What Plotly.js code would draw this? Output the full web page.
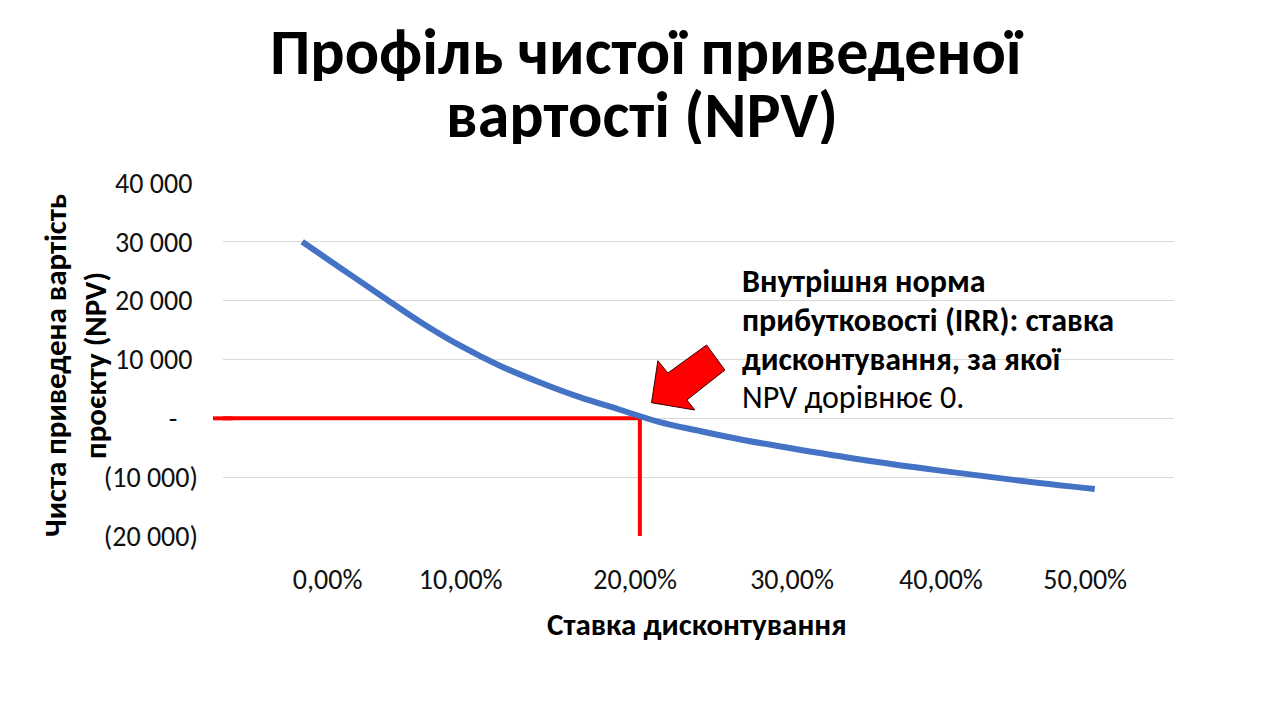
<!DOCTYPE html>
<html>
<head>
<meta charset="utf-8">
<script src="https://cdn.plot.ly/plotly-3.0.1.min.js"></script>
<style>
  html, body { margin: 0; padding: 0; background: #ffffff; }
  #chart { width: 1280px; height: 720px; }
</style>
</head>
<body>
<div id="chart"></div>
<script>
// ---- data ----
const rates = [0, 2.5, 5, 7.5, 10, 12.5, 15, 17.5, 20, 22.5, 25, 27.5, 30, 35, 40, 45, 50];   // discount rate, %
const npv = [30000, 25400, 20800, 16300, 12300, 8900, 6100, 3600, 1500, -600, -2100, -3500, -4700, -6900, -8800, -10500, -12000];
const irr = 21.3;                                                      // % where NPV = 0
const xTickRates = [1.6, 10, 21, 30.9, 40.3, 49.4];                   // where the labels sit
const xTickLabels = ['0,00%', '10,00%', '20,00%', '30,00%', '40,00%', '50,00%'];
const yTickValues = [-20000, -10000, 0, 10000, 20000, 30000, 40000];
const yTickLabels = ['(20 000)', '(10 000)', '-\u2007\u2009', '10 000\u2009', '20 000\u2009', '30 000\u2009', '40 000\u2009'];
const titleLines = ['Профіль чистої приведеної', 'вартості (NPV)'];
const yTitle = 'Чиста приведена вартість<br>проєкту (NPV)';
const xTitle = 'Ставка дисконтування';
const noteBold = ['Внутрішня норма', 'прибутковості (IRR): ставка', 'дисконтування, за якої'];
const noteRegular = 'NPV дорівнює 0.';

// ---- layout geometry ----
const W = 1280, H = 720;
const M = { l: 223, r: 106, t: 183, b: 184 };
const PW = W - M.l - M.r, PH = H - M.t - M.b;
const px = x => (x - M.l) / PW;
const py = y => (H - M.b - y) / PH;
const FONT = "Carlito, Calibri, 'Liberation Sans Narrow', 'Open Sans', sans-serif";
const INK = '#111111';
const RED = '#FF0000';

const traces = [{
  type: 'scatter', mode: 'lines', x: rates, y: npv,
  line: { color: '#4472C4', width: 6, shape: 'spline', smoothing: 1 },
  hoverinfo: 'skip', showlegend: false
}];

// note lines: vertical centres of each line in the reference
const noteY = [281, 320, 359, 397];
const noteAnn = noteBold.map((t, i) => ({
  xref: 'paper', yref: 'paper', x: px(740), y: py(noteY[i]), xanchor: 'left', yanchor: 'middle',
  height: 36, text: '<b>' + t + '</b>', showarrow: false, font: { family: FONT, size: 32, color: '#000' }
}));
noteAnn.push({
  xref: 'paper', yref: 'paper', x: px(740), y: py(noteY[3]), xanchor: 'left', yanchor: 'middle',
  height: 36, text: noteRegular, showarrow: false, font: { family: FONT, size: 32, color: '#000' }
});

const layout = {
  width: W, height: H, margin: M,
  paper_bgcolor: '#ffffff', plot_bgcolor: '#ffffff',
  font: { family: FONT, color: INK },
  showlegend: false,
  xaxis: {
    range: [-5, 55], showgrid: false, zeroline: false, showline: false,
    tickmode: 'array', tickvals: xTickRates, ticktext: xTickLabels,
    ticks: '', ticklabelstandoff: 24,
    tickfont: { family: FONT, size: 28, color: INK }, fixedrange: true
  },
  yaxis: {
    range: [-20000, 40000], showgrid: true, gridcolor: '#d9d9d9', gridwidth: 1,
    zeroline: false, showline: false,
    tickmode: 'array', tickvals: yTickValues, ticktext: yTickLabels,
    ticks: '', ticklabelstandoff: 24,
    tickfont: { family: FONT, size: 28, color: INK }, fixedrange: true
  },
  shapes: [
    // white panel behind the IRR note (hides the gridlines there)
    { type: 'rect', xref: 'paper', yref: 'paper', x0: px(736), x1: px(1150), y0: py(410), y1: py(255),
      fillcolor: '#ffffff', line: { width: 0 }, layer: 'between' },
    { type: 'line', xref: 'paper', yref: 'y', x0: px(213), x1: 0.01, y0: 0, y1: 0,
      line: { color: RED, width: 4 }, layer: 'between' },
    { type: 'line', xref: 'x', yref: 'y', x0: -5, x1: irr, y0: 0, y1: 0,
      line: { color: RED, width: 4 }, layer: 'between' },
    { type: 'line', xref: 'x', yref: 'y', x0: irr, x1: irr, y0: 0, y1: -20000,
      line: { color: RED, width: 4 }, layer: 'between' },
    { type: 'path', xref: 'x', yref: 'y', xsizemode: 'pixel', ysizemode: 'pixel',
      xanchor: irr, yanchor: 0,
      path: 'M 11.7,15.6 L 18,57.6 L 28,45.3 L 66.7,73.3 L 85,48.3 L 47,18.3 L 55,8.3 Z',
      fillcolor: RED, line: { color: '#3a0000', width: 1 }, layer: 'above' }
  ],
  annotations: [
    { xref: 'paper', yref: 'paper', x: px(647), y: py(52), xanchor: 'center', yanchor: 'middle',
      height: 58, text: '<b>' + titleLines[0] + '</b>', showarrow: false,
      font: { family: FONT, size: 64, color: '#000' } },
    { xref: 'paper', yref: 'paper', x: px(642), y: py(115), xanchor: 'center', yanchor: 'middle',
      height: 58, text: '<b>' + titleLines[1] + '</b>', showarrow: false,
      font: { family: FONT, size: 64, color: '#000' } },
    { xref: 'paper', yref: 'paper', x: px(75), y: py(366), xanchor: 'center', yanchor: 'middle',
      textangle: -90, text: '<b>' + yTitle + '</b>', showarrow: false,
      font: { family: FONT, size: 31, color: '#000' } },
    { xref: 'paper', yref: 'paper', x: px(697), y: py(624), xanchor: 'center', yanchor: 'middle',
      text: '<b>' + xTitle + '</b>', showarrow: false, font: { family: FONT, size: 31, color: '#000' } }
  ].concat(noteAnn)
};

Plotly.newPlot('chart', traces, layout, { staticPlot: true, displayModeBar: false });
</script>
</body>
</html>
